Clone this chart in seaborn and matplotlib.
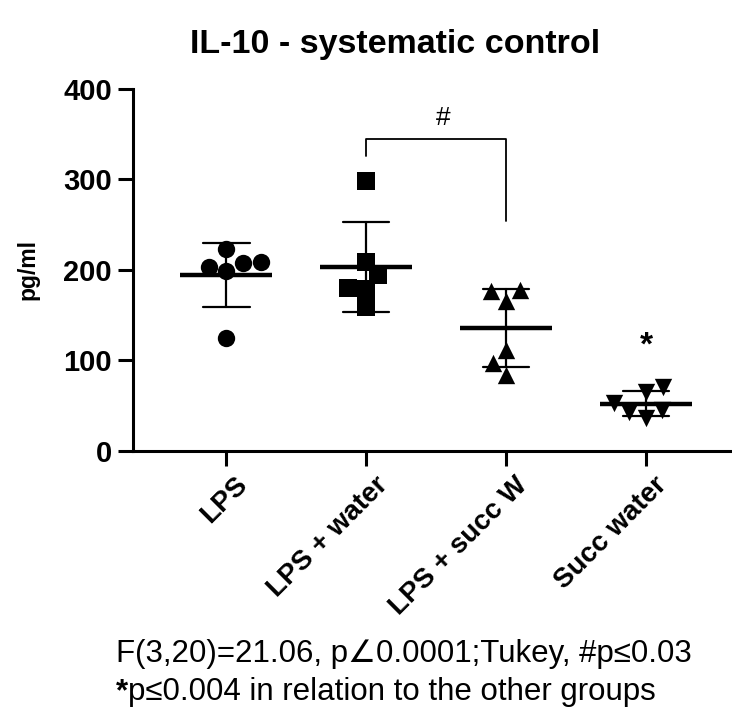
import matplotlib
matplotlib.use("Agg")
import matplotlib.pyplot as plt
import matplotlib.transforms as mtransforms
import numpy as np
import pandas as pd
import seaborn as sns

# Groups and IL-10 concentrations (pg/ml), six animals per group
groups = ["LPS", "LPS + water", "LPS + succ W", "Succ water"]
lps = [209, 203, 223, 199, 207, 125]
lps_water = [298, 209, 194, 179, 180, 159]
lps_succ_w = [178, 166, 177, 111, 97, 84]
succ_water = [65, 71, 53, 36, 43, 45]
group_markers = ["o", "s", "^", "v"]
y_ticks = [0, 100, 200, 300, 400]

# Significance annotations
bracket_y = [325, 344, 344, 254]
hash_y = 368
star_y = 116

df = pd.DataFrame({
    "group": np.repeat(groups, 6),
    "value": lps + lps_water + lps_succ_w + succ_water,
})

sns.set_style("ticks")
plt.rcParams["font.family"] = ["Liberation Sans", "DejaVu Sans"]
plt.rcParams.update({
    "text.color": "black",
    "axes.labelcolor": "black",
    "xtick.color": "black",
    "ytick.color": "black",
    "axes.edgecolor": "black",
})

fig = plt.figure(figsize=(7.32, 7.15), dpi=100)
ax = fig.add_axes([0.1813, 0.3692, 0.8295, 0.507])

# individual animals, one marker shape per group
for g, m in zip(groups, group_markers):
    sns.swarmplot(data=df[df["group"] == g], x="group", y="value", order=groups,
                  marker=m, color="black", size=12.5, ax=ax, zorder=3, clip_on=False)

# mean line with SD error bars
sns.pointplot(data=df, x="group", y="value", order=groups, errorbar="sd",
              capsize=0.33, color="black", linestyle="none", marker="_",
              markersize=66, markeredgewidth=3.2,
              err_kws={"linewidth": 1.6}, ax=ax, zorder=4)

ax.set_xlim(-0.67, 3.67)
ax.set_ylim(0, 400)
ax.set_yticks(y_ticks)
ax.set_xticks(range(len(groups)), groups, rotation=45, ha="right",
              rotation_mode="anchor")
sns.despine(ax=ax)
for side in ["left", "bottom"]:
    ax.spines[side].set_linewidth(2.2)
ax.tick_params(axis="both", length=11, width=2.2, pad=4, color="black")
ax.tick_params(axis="y", labelsize=21)
ax.tick_params(axis="x", labelsize=20)
shift = mtransforms.ScaledTranslation(8 / 100, 0, fig.dpi_scale_trans)
for lab in ax.get_xticklabels():
    lab.set_fontweight("bold")
    lab.set_transform(lab.get_transform() + shift)
for lab in ax.get_yticklabels():
    lab.set_fontweight("bold")
ax.set_xlabel("")
ax.set_ylabel("pg/ml", fontsize=16.5, fontweight="bold", va="center")
ax.yaxis.set_label_coords(-0.1725, 0.5)

# Tukey comparison bracket and markers
ax.plot([1, 1, 2, 2], bracket_y, color="black", lw=1.3, clip_on=False)
ax.text(1.55, hash_y, "#", fontsize=19, ha="center", va="center")
ax.text(3, star_y, "*", fontsize=24, fontweight="bold", ha="center", va="center")

fig.text(395 / 732, 1 - 44 / 715, "IL-10 - systematic control", fontsize=24.5,
         fontweight="bold", ha="center", va="center")

fig.text(116 / 732, 1 - 662 / 715, "F(3,20)=21.06, p\u22200.0001;Tukey, #p\u22640.03",
         fontsize=22.5, ha="left", va="baseline")
star = fig.text(116 / 732, 1 - 700 / 715, "*", fontsize=22.5, fontweight="bold",
                ha="left", va="baseline")
ax.annotate("p\u22640.004 in relation to the other groups", xy=(1, 0),
            xycoords=star, fontsize=22.5, ha="left", va="bottom",
            annotation_clip=False)

fig.savefig("out.png", dpi=100)
